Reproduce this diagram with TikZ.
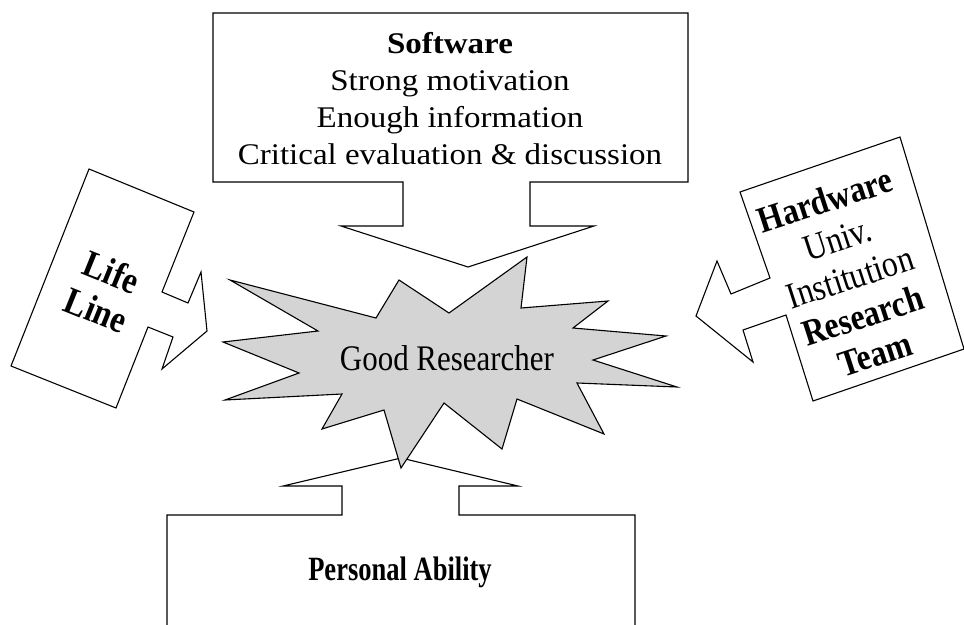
\documentclass[tikz,border=0pt]{standalone}
\usepackage{fontspec}
\setmainfont{Liberation Serif}
\newfontfamily\wideserif[FakeStretch=1.1]{Liberation Serif}
\newfontfamily\tallserif[FakeStretch=0.86]{Liberation Serif}
\newfontfamily\narrowserif[FakeStretch=0.78]{Liberation Serif}
\definecolor{burstgray}{RGB}{212,212,212}

\begin{document}
\begin{tikzpicture}[x=1pt, y=-1pt,
    blockarrow/.style={draw, line width=1.1pt, fill=white},
    burst/.style={draw, line width=1.1pt, fill=burstgray},
    lbl/.style={align=center, inner sep=0pt}]
    \clip (0,0) rectangle (964,624);

    % Software (top, pointing down)
    \draw[blockarrow] (213,13) -- (688,13) -- (688,182) -- (530,182) -- (530,226)
        -- (594,226) -- (468,267) -- (341,226) -- (403,226) -- (403,182) -- (213,182) -- cycle;
    \node (software) [lbl, font=\wideserif\fontsize{30}{37}\selectfont] at (450,99)
        {\textbf{Software}\\Strong motivation\\Enough information\\Critical evaluation \& discussion};

    % Personal Ability (bottom, pointing up)
    \draw[blockarrow] (167,515) -- (342,515) -- (342,486) -- (283,486) -- (401,458)
        -- (518,486) -- (459,486) -- (459,515) -- (635,515) -- (635,640) -- (167,640) -- cycle;
    \node (ability) [lbl, font=\narrowserif\fontsize{34}{40}\bfseries] at (400,572) {Personal Ability};

    % Life Line (left, pointing right)
    \draw[blockarrow] (89,169) -- (194,212) -- (162,292) -- (188,303) -- (201,272)
        -- (207,331) -- (162,369) -- (173,337) -- (148,327) -- (116,408) -- (11,366) -- cycle;
    \node (lifeline) [lbl, font=\tallserif\fontsize{38}{41}\bfseries, rotate=-22] at (104,291) {Life\\Line};

    % Hardware (right, pointing left)
    \draw[blockarrow] (740,192) -- (900,137) -- (964,349) -- (813,401) -- (786,315)
        -- (743,330) -- (753,362) -- (696,316) -- (717,261) -- (731,294) -- (770,278) -- cycle;
    \node (hardware) [lbl, font=\tallserif\fontsize{37}{40.5}\selectfont, rotate=18] at (850,277)
        {\textbf{Hardware}\\Univ.\\Institution\\\textbf{Research}\\\textbf{Team}};

    % Good Researcher (centre)
    \draw[burst] (230,280) -- (318,331) -- (223,342) -- (299,373) -- (225,400) -- (342,394)
        -- (322,429) -- (384,410) -- (401,468) -- (444,403) -- (502,449) -- (517,399)
        -- (604,434) -- (577,383) -- (677,387) -- (593,360) -- (666,336) -- (573,328)
        -- (608,301) -- (521,308) -- (527,257) -- (449,313) -- (399,280) -- (376,318) -- cycle;
    \node (researcher) [lbl, font=\tallserif\fontsize{36}{40}\selectfont] at (447,358) {Good Researcher};
\end{tikzpicture}
\end{document}
